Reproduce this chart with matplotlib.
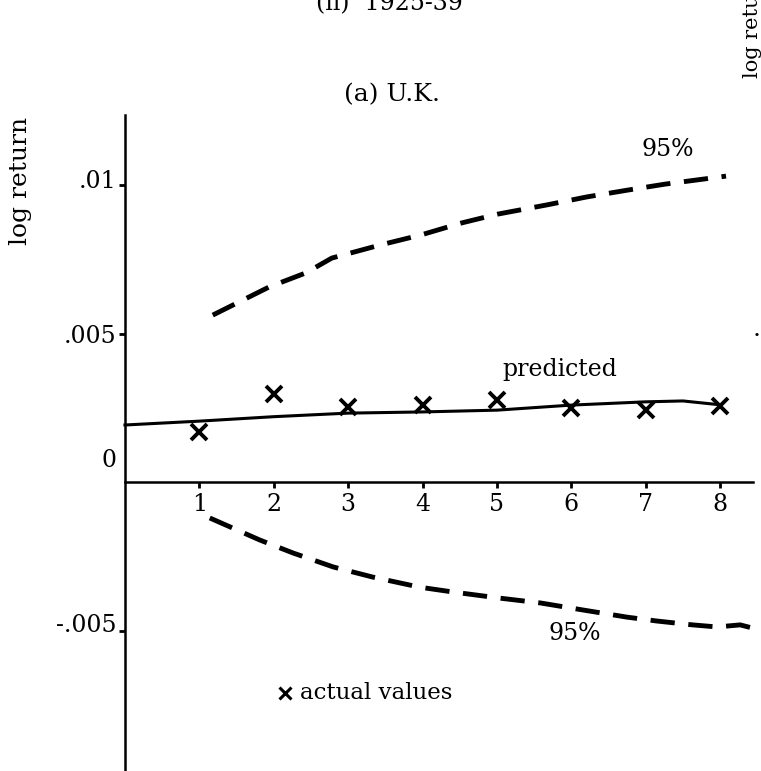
import matplotlib
matplotlib.use('Agg')
import matplotlib.pyplot as plt
from matplotlib.transforms import ScaledTranslation

plt.rcParams['font.family'] = ['DejaVu Serif']

# forecast horizon (steps ahead)
steps = [1, 2, 3, 4, 5, 6, 7, 8]
actual = [0.00168, 0.00296, 0.00253, 0.00259, 0.00276, 0.00249, 0.00242, 0.00256]

pred_x = [0, 1, 2, 3, 4, 5, 6, 7, 7.5, 8]
predicted = [0.00192, 0.00205, 0.0022, 0.00232, 0.00236, 0.00242, 0.00259, 0.0027, 0.00273, 0.0026]

upper_x = [1.18, 1.94, 2.43, 2.78, 3.43, 3.98, 4.52, 5.01, 5.67, 6.21, 6.76, 7.26, 8.08]
upper95 = [0.00562, 0.00657, 0.00704, 0.00754, 0.00798, 0.00832, 0.00872, 0.00902,
           0.00933, 0.0096, 0.00983, 0.01003, 0.0103]

lower_x = [1.14, 1.81, 2.26, 2.8, 3.33, 3.96, 4.4, 5.04, 5.58, 6.16, 6.75, 7.15, 7.63, 7.96, 8.27, 8.44]
lower95 = [-0.00121, -0.00195, -0.00239, -0.00286, -0.0032, -0.00354, -0.0037, -0.00391,
           -0.00407, -0.00431, -0.00455, -0.00468, -0.00481, -0.00488, -0.00481, -0.00492]

yticks = [-0.005, 0, 0.005, 0.01]
ytick_labels = ['-.005', '0', '.005', '.01']

fig = plt.figure(figsize=(7.61, 7.71), dpi=100)
ax = fig.add_axes([0, 0, 1, 1])
ax.set_xlim(-1.68, 8.55)
ax.set_ylim(-0.00973, 0.01623)

# axes crossing at the origin
for side in ['top', 'right']:
    ax.spines[side].set_visible(False)
ax.spines['left'].set_position(('data', 0))
ax.spines['bottom'].set_position(('data', 0))
ax.spines['left'].set_bounds(-0.0098, 0.01236)
ax.spines['bottom'].set_bounds(0, 8.44)
ax.spines['left'].set_linewidth(1.8)
ax.spines['bottom'].set_linewidth(1.8)

ax.set_xticks(steps)
ax.set_xticklabels([str(s) for s in steps], fontsize=17)
ax.set_yticks(yticks)
ax.set_yticklabels(ytick_labels, fontsize=17)
ax.tick_params(axis='both', direction='out', length=4, width=2)
ax.tick_params(axis='x', pad=4)
ax.tick_params(axis='y', pad=2)

# shift the y labels a little above their ticks
for lab, dy in zip(ax.get_yticklabels(), [8, 24, 0, 6]):
    lab.set_transform(lab.get_transform() + ScaledTranslation(0, dy / 100, fig.dpi_scale_trans))
ax.yaxis.get_major_ticks()[1].tick1line.set_visible(False)

ax.plot(pred_x, predicted, color='black', lw=2.2)
ax.plot(steps, actual, linestyle='none', marker='x', color='black', ms=11, mew=2.8)
ax.plot(upper_x, upper95, color='black', lw=3.5, dashes=(5, 2.8))
ax.plot(lower_x, lower95, color='black', lw=3.5, dashes=(5, 2.8))

ax.text(7.3, 0.0112, '95%', fontsize=17, ha='center', va='center')
ax.text(6.05, -0.0051, '95%', fontsize=17, ha='center', va='center')
ax.text(5.85, 0.0038, 'predicted', fontsize=17, ha='center', va='center')
ax.plot([2.15], [-0.0071], linestyle='none', marker='x', color='black', ms=8, mew=2.2)
ax.text(2.35, -0.0071, 'actual values', fontsize=16.5, ha='left', va='center')

fig.text(0.512, 1 - 4 / 771, '(ii)  1925-39', fontsize=17, ha='center', va='center')
fig.text(0.515, 1 - 95 / 771, '(a) U.K.', fontsize=18, ha='center', va='center')
fig.text(21 / 761, 1 - 181 / 771, 'log return', fontsize=18, rotation=90,
         ha='center', va='center')
fig.text(752 / 761, 1 - 78 / 771, 'log return', fontsize=15, rotation=90,
         rotation_mode='anchor', ha='left', va='center')
fig.text(757 / 761, 1 - 330 / 771, '.', fontsize=18, ha='center', va='center')

fig.savefig('out.png', dpi=100)
